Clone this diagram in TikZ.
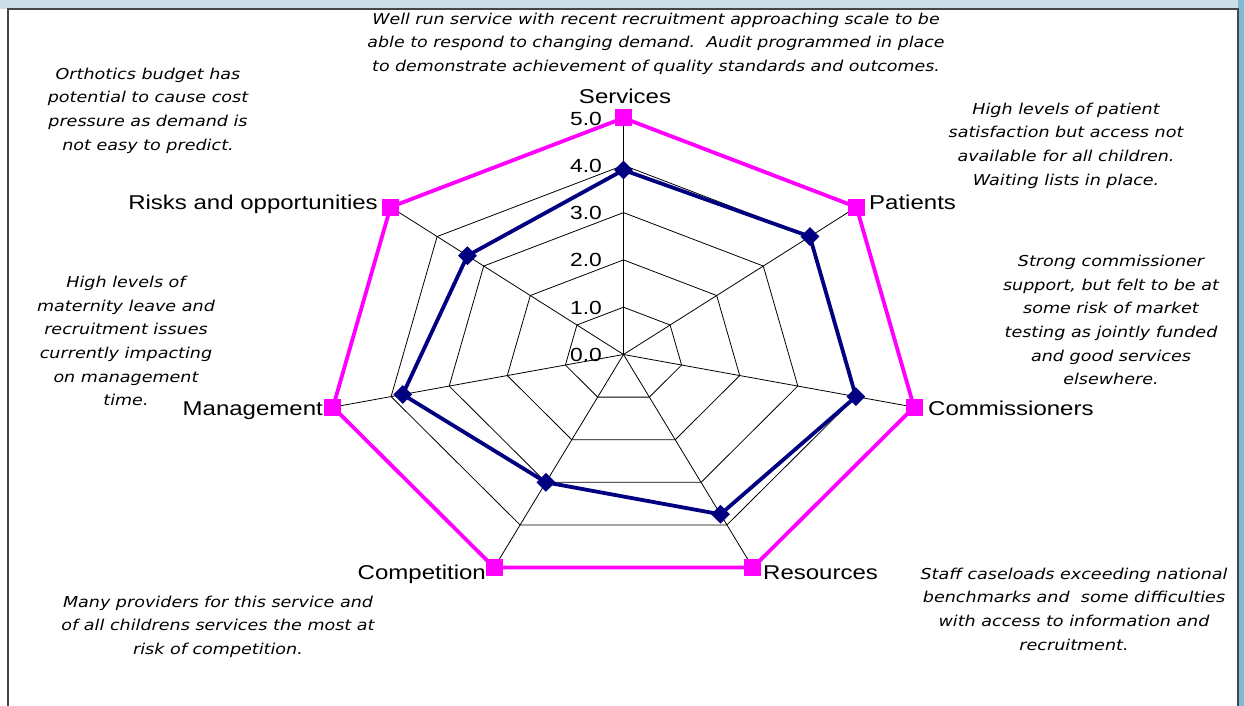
\documentclass[tikz,border=0pt]{standalone}
\usepackage{fontspec}
\setmainfont{Liberation Sans}
\newfontfamily\notefont{DejaVu Sans}[ItalicFont={DejaVu Sans Oblique}]
\usetikzlibrary{shapes.geometric,calc}
\definecolor{mag}{RGB}{255,0,255}
\definecolor{navyc}{RGB}{0,0,128}
\definecolor{topstrip}{RGB}{205,222,232}
\definecolor{sidestrip}{RGB}{128,186,210}
\definecolor{framec}{RGB}{70,70,70}
\newcommand\notetext[2]{\scalebox{#1}[1]{\notefont\itshape\fontsize{15}{23.7}\selectfont\begin{tabular}{@{}c@{}}#2\end{tabular}}}
\newcommand\axtext[1]{\scalebox{1.2}[1]{\fontsize{20}{24}\selectfont #1}}
\newcommand\numtext[1]{\scalebox{1.2}[1]{\fontsize{19}{22}\selectfont #1}}
\tikzset{
  gridline/.style={draw=black,line width=0.8pt},
  targetline/.style={draw=mag,line width=3.8pt,line join=miter},
  dataline/.style={draw=navyc,line width=3.8pt,line join=round},
  sqmark/.style={rectangle,fill=mag,minimum size=17pt,inner sep=0pt},
  dimark/.style={diamond,fill=navyc,minimum size=19pt,inner sep=0pt},
  axlabel/.style={inner sep=0pt},
  notebox/.style={inner sep=0pt,align=center}
}
\begin{document}
\begin{tikzpicture}[x=1pt,y=-1pt]
\useasboundingbox (0,0) rectangle (1244,706);
\fill[white] (0,0) rectangle (1244,706);
\fill[topstrip] (0,0) rectangle (1244,9);
\fill[sidestrip] (1238,0) rectangle (1244,706);
\draw[framec,line width=1.5pt] (8,710) -- (8,9) -- (1238,9) -- (1238,710);
\def\cx{623.5}\def\cy{354.5}\def\ux{59.6}\def\uy{47.3}
\coordinate (c) at (\cx,\cy);
\foreach \k/\v in {0/3.9,1/4.0,2/4.0,3/3.75,4/3.0,5/3.8,6/3.35}{
  \pgfmathsetmacro\ang{90-\k*360/7}
  \coordinate (d\k) at ({\cx+\v*\ux*cos(\ang)},{\cy-\v*\uy*sin(\ang)});
  \foreach \r in {1,...,5}{
    \coordinate (g\r-\k) at ({\cx+\r*\ux*cos(\ang)},{\cy-\r*\uy*sin(\ang)});
  }
}
% grid
\foreach \r in {1,...,4}{
  \draw[gridline] (g\r-0) -- (g\r-1) -- (g\r-2) -- (g\r-3) -- (g\r-4) -- (g\r-5) -- (g\r-6) -- cycle;
}
\foreach \k in {0,...,6}{ \draw[gridline] (c) -- (g5-\k); }
% target polygon
\draw[targetline] (g5-0) -- (g5-1) -- (g5-2) -- (g5-3) -- (g5-4) -- (g5-5) -- (g5-6) -- cycle;
% data polygon
\draw[dataline] (d0) -- (d1) -- (d2) -- (d3) -- (d4) -- (d5) -- (d6) -- cycle;
\foreach \k in {0,...,6}{
  \node[sqmark] (sq\k) at (g5-\k) {};
  \node[dimark] (dm\k) at (d\k) {};
}
% scale numbers
\foreach \r in {0,...,5}{
  \node[axlabel,anchor=base east] (n\r) at (602,{\cy-\r*\uy+7}) {\numtext{\r.0}};
}
% axis labels
\node[axlabel,anchor=base] (lserv) at (625,103) {\axtext{Services}};
\node[axlabel,anchor=base west] (lpat) at (869,209) {\axtext{Patients}};
\node[axlabel,anchor=base west] (lcom) at (928,415) {\axtext{Commissioners}};
\node[axlabel,anchor=base west] (lres) at (763,579) {\axtext{Resources}};
\node[axlabel,anchor=base east] (lcomp) at (486,579) {\axtext{Competition}};
\node[axlabel,anchor=base east] (lman) at (323,415) {\axtext{Management}};
\node[axlabel,anchor=base east] (lrisk) at (378,209) {\axtext{Risks and opportunities}};
% notes
\node[notebox] (ntop) at (656,43) {\notetext{1.16}{Well run service with recent recruitment approaching scale to be\\able to respond to changing demand.\ \ Audit programmed in place\\to demonstrate achievement of quality standards and outcomes.}};
\node[notebox] (north) at (148,110) {\notetext{1.17}{Orthotics budget has\\potential to cause cost\\pressure as demand is\\not easy to predict.}};
\node[notebox] (nmat) at (126,342) {\notetext{1.17}{High levels of\\maternity leave and\\recruitment issues\\currently impacting\\on management\\time.}};
\node[notebox] (nmany) at (218,626) {\notetext{1.17}{Many providers for this service and\\of all childrens services the most at\\risk of competition.}};
\node[notebox] (npat) at (1066,145) {\notetext{1.17}{High levels of patient\\satisfaction but access not\\available for all children.\\Waiting lists in place.}};
\node[notebox] (ncom) at (1111,321) {\notetext{1.17}{Strong commissioner\\support, but felt to be at\\some risk of market\\testing as jointly funded\\and good services\\elsewhere.}};
\node[notebox] (nstaff) at (1074,610) {\notetext{1.17}{Staff caseloads exceeding national\\benchmarks and\ \ some difficulties\\with access to information and\\recruitment.}};
\end{tikzpicture}
\end{document}
